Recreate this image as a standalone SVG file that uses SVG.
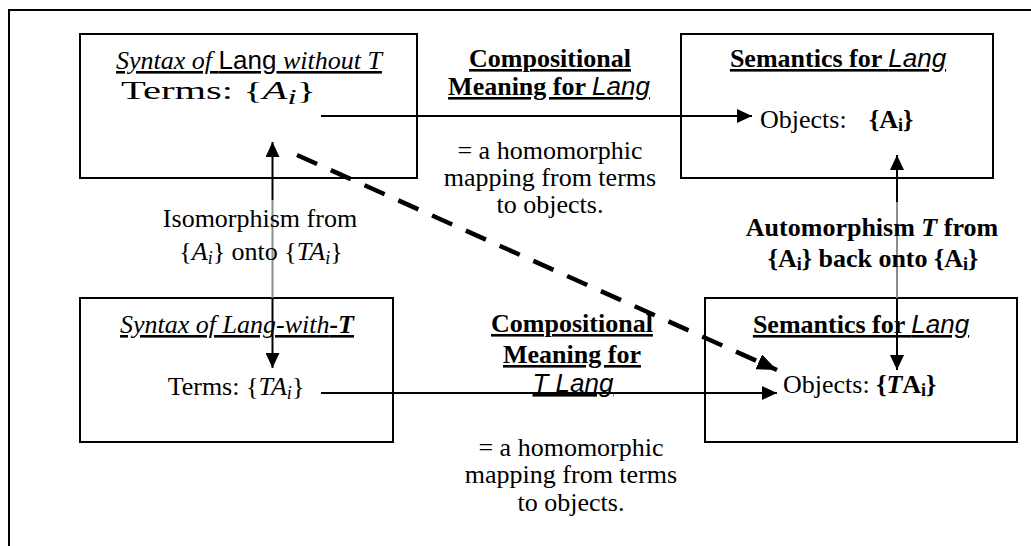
<svg xmlns="http://www.w3.org/2000/svg" width="1031" height="546" viewBox="0 0 1031 546">
<style>
.t{font-family:"Liberation Serif","Times New Roman",serif;font-size:26px;fill:#000}
.b{font-weight:bold}
.i{font-style:italic}
.n{font-style:normal}
.u{text-decoration:underline}
.sans{font-family:"Liberation Sans",Arial,sans-serif;font-weight:normal}
.box{fill:#fff;stroke:#000;stroke-width:2}
.frame{fill:none;stroke:#000;stroke-width:2}
.ln{stroke:#000;stroke-width:2;fill:none}
.gray{stroke:#8c8c8c;stroke-width:2;fill:none}
.dash{stroke:#000;stroke-width:4.5;stroke-dasharray:22 15;fill:none}
</style>
<defs>
<marker id="ah" markerUnits="userSpaceOnUse" markerWidth="15" markerHeight="14" refX="15" refY="7" orient="auto" viewBox="0 0 15 14">
<path d="M0,0 L15,7 L0,14 z" fill="#000"/>
</marker>
<marker id="ahd" markerUnits="userSpaceOnUse" markerWidth="20" markerHeight="16" refX="20" refY="8" orient="auto" viewBox="0 0 20 16">
<path d="M0,0 L20,8 L0,16 z" fill="#000"/>
</marker>
</defs>

<path class="frame" d="M9,546 L9,10 L1031,10"/>

<g id="syntax-lang">
<rect class="box" x="80" y="34" width="337" height="144"/>
<text class="t i u" x="249" y="69" text-anchor="middle">Syntax of <tspan class="sans n">Lang</tspan> without T</text>
<text class="t" x="121" y="99" font-size="31" textLength="195" lengthAdjust="spacingAndGlyphs">Terms: {<tspan class="i">A</tspan><tspan class="i" font-size="21" dy="5">i</tspan><tspan dy="-5">}</tspan></text>
</g>

<g id="semantics-top">
<rect class="box" x="681" y="34" width="312" height="144"/>
<text class="t b u" x="838" y="67" text-anchor="middle">Semantics for <tspan class="sans i">Lang</tspan></text>
<text class="t" x="760" y="128">Objects:</text>
<text class="t b" x="869" y="128">{A<tspan font-size="18" dy="3">i</tspan><tspan dy="-3">}</tspan></text>
</g>

<g id="syntax-lang-with-t">
<rect class="box" x="80" y="298" width="313" height="144"/>
<text class="t i u" x="237" y="333" text-anchor="middle">Syntax of Lang-with<tspan class="b">-T</tspan></text>
<text class="t" x="236" y="395" text-anchor="middle">Terms: {<tspan class="i">TA</tspan><tspan class="i" font-size="18" dy="4">i</tspan><tspan dy="-4">}</tspan></text>
</g>

<g id="semantics-bottom">
<rect class="box" x="705" y="298" width="312" height="144"/>
<text class="t b u" x="861" y="333" text-anchor="middle">Semantics for <tspan class="sans i">Lang</tspan></text>
<text class="t" x="783" y="393">Objects: <tspan class="b">{<tspan class="i">T</tspan>A<tspan font-size="18" dy="3">i</tspan><tspan dy="-3">}</tspan></tspan></text>
</g>

<g id="connectors">
<path class="ln" d="M321,116 L752,116" marker-end="url(#ah)"/>
<path class="ln" d="M321,393 L777,393" marker-end="url(#ah)"/>
<path class="ln" d="M272.5,200 L272.5,142" marker-end="url(#ah)"/>
<path class="gray" d="M272.5,200 L272.5,298"/>
<path class="ln" d="M272.5,298 L272.5,368" marker-end="url(#ah)"/>
<path class="ln" d="M897,202 L897,155" marker-end="url(#ah)"/>
<path class="gray" d="M897,202 L897,298"/>
<path class="ln" d="M897,298 L897,370" marker-end="url(#ah)"/>
<path class="dash" d="M297,155 L777,370" marker-end="url(#ahd)"/>
</g>

<g id="label-compositional-top">
<text class="t b u" x="550" y="67" text-anchor="middle">Compositional</text>
<text class="t b u" x="549" y="95" text-anchor="middle">Meaning for <tspan class="sans i">Lang</tspan></text>
<text class="t" x="550" y="159" text-anchor="middle">= a homomorphic</text>
<text class="t" x="550" y="186" text-anchor="middle">mapping from terms</text>
<text class="t" x="550" y="213" text-anchor="middle">to objects.</text>
</g>

<g id="label-isomorphism">
<text class="t" x="260" y="227" text-anchor="middle">Isomorphism from</text>
<text class="t" x="261" y="260" text-anchor="middle">{<tspan class="i">A</tspan><tspan class="i" font-size="18" dy="4">i</tspan><tspan dy="-4">} onto {</tspan><tspan class="i">TA</tspan><tspan class="i" font-size="18" dy="4">i</tspan><tspan dy="-4">}</tspan></text>
</g>

<g id="label-automorphism">
<text class="t b" x="872" y="236" text-anchor="middle">Automorphism <tspan class="i">T</tspan> from</text>
<text class="t b" x="873" y="267" text-anchor="middle">{A<tspan font-size="18" dy="3">i</tspan><tspan dy="-3">} back onto {A</tspan><tspan font-size="18" dy="3">i</tspan><tspan dy="-3">}</tspan></text>
</g>

<g id="label-compositional-bottom">
<text class="t b u" x="572" y="332" text-anchor="middle">Compositional</text>
<text class="t b u" x="572" y="363" text-anchor="middle">Meaning for</text>
<text class="t u" x="573" y="392" text-anchor="middle"><tspan class="sans i">T Lang</tspan></text>
<text class="t" x="571" y="456" text-anchor="middle">= a homomorphic</text>
<text class="t" x="571" y="483" text-anchor="middle">mapping from terms</text>
<text class="t" x="571" y="511" text-anchor="middle">to objects.</text>
</g>
</svg>
